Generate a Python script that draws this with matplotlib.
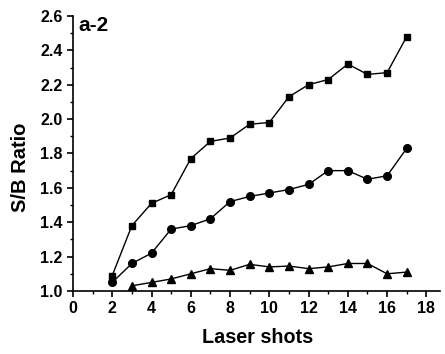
import matplotlib
matplotlib.use("Agg")
import matplotlib.pyplot as plt
from matplotlib.ticker import MultipleLocator

plt.rcParams['font.family'] = ['Liberation Sans', 'DejaVu Sans']
plt.rcParams['font.weight'] = 'bold'

shots_sq = [2, 3, 4, 5, 6, 7, 8, 9, 10, 11, 12, 13, 14, 15, 16, 17]
ratio_sq = [1.09, 1.38, 1.51, 1.56, 1.77, 1.87, 1.89, 1.97, 1.98, 2.13, 2.20, 2.23, 2.32, 2.26, 2.27, 2.48]

shots_ci = [2, 3, 4, 5, 6, 7, 8, 9, 10, 11, 12, 13, 14, 15, 16, 17]
ratio_ci = [1.05, 1.16, 1.22, 1.36, 1.38, 1.42, 1.52, 1.55, 1.57, 1.59, 1.62, 1.70, 1.70, 1.65, 1.67, 1.83]

shots_tr = [3, 4, 5, 6, 7, 8, 9, 10, 11, 12, 13, 14, 15, 16, 17]
ratio_tr = [1.03, 1.05, 1.07, 1.10, 1.13, 1.12, 1.155, 1.14, 1.145, 1.13, 1.14, 1.16, 1.16, 1.10, 1.11]

fig = plt.figure(figsize=(4.45, 3.54), dpi=100)
ax = fig.add_axes([0.164, 0.178, 0.825, 0.777])

ax.plot(shots_sq, ratio_sq, color='black', lw=1.0, marker='s', ms=5, clip_on=False)
ax.plot(shots_ci, ratio_ci, color='black', lw=1.0, marker='o', ms=5.5, clip_on=False)
ax.plot(shots_tr, ratio_tr, color='black', lw=1.0, marker='^', ms=6, clip_on=False)

ax.set_xlim(0, 18.7)
ax.set_ylim(1.0, 2.6)
ax.xaxis.set_major_locator(MultipleLocator(2))
ax.xaxis.set_minor_locator(MultipleLocator(1))
ax.yaxis.set_major_locator(MultipleLocator(0.2))
ax.yaxis.set_minor_locator(MultipleLocator(0.1))
ax.yaxis.set_major_formatter(plt.FuncFormatter(lambda v, p: f"{v:.1f}"))

for s in ['top', 'right']:
    ax.spines[s].set_visible(False)
for s in ['left', 'bottom']:
    ax.spines[s].set_linewidth(1.2)

ax.tick_params(which='major', direction='out', length=4, width=1.2, labelsize=11.5)
ax.tick_params(which='minor', direction='out', length=2.5, width=1.0)
for lab in ax.get_xticklabels() + ax.get_yticklabels():
    lab.set_fontweight('bold')

fig.text(0.578, 0.046, 'Laser shots', fontsize=14.2, fontweight='bold',
         ha='center', va='center')
fig.text(0.045, 0.528, 'S/B Ratio', fontsize=14.5, fontweight='bold',
         ha='center', va='center', rotation=90)
ax.text(0.3, 2.6, 'a-2', fontsize=15, fontweight='bold', va='top', ha='left')

fig.savefig('out.png', dpi=100)
